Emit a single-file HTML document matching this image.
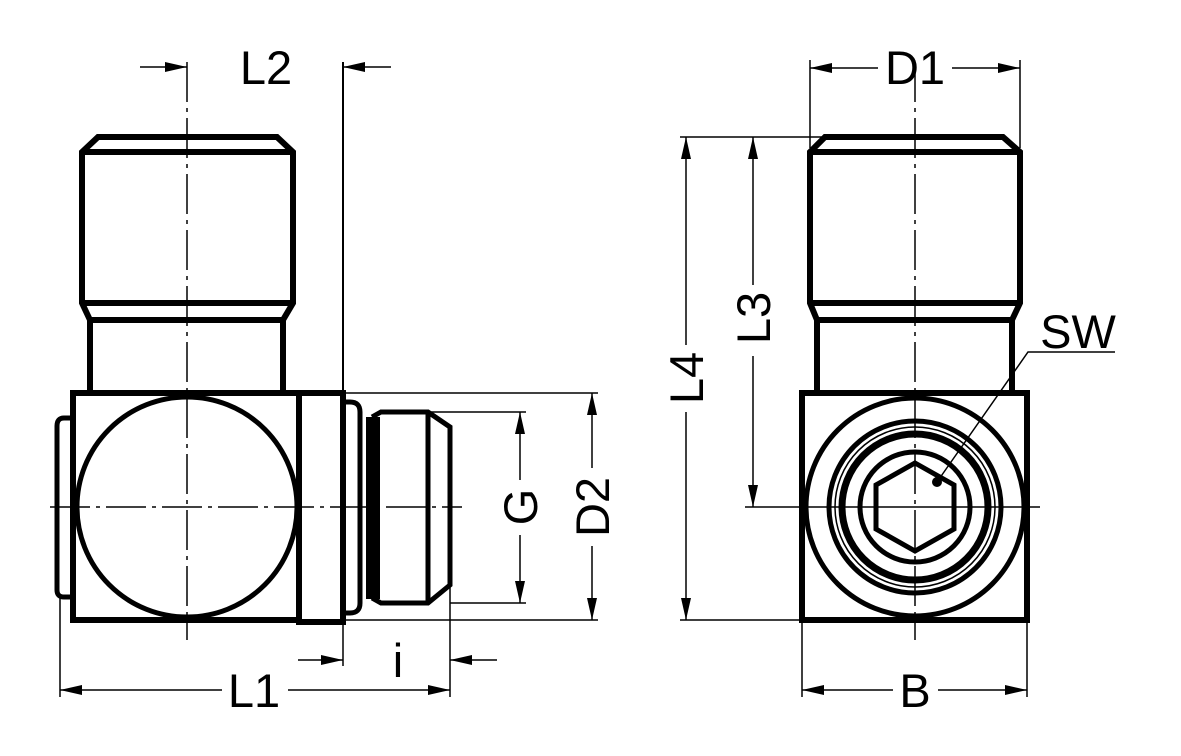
<!DOCTYPE html>
<html><head><meta charset="utf-8"><style>
html,body{margin:0;padding:0;background:#fff;}
svg{display:block;}
text{font-family:"Liberation Sans",sans-serif;font-size:47px;fill:#000;}
</style></head><body>
<svg width="1181" height="756" viewBox="0 0 1181 756" xmlns="http://www.w3.org/2000/svg">
<defs>
<marker id="a" viewBox="0 0 22 10" refX="22" refY="5" markerWidth="22" markerHeight="10" markerUnits="userSpaceOnUse" orient="auto"><path d="M0,0 L22,5 L0,10 z" fill="#000"/></marker>
</defs>
<g fill="none" stroke="#000" stroke-width="6" stroke-linejoin="miter">
<!-- LEFT VIEW -->
<path d="M90,393 V320 L82,303 V152 L98,137 H277 L293,152 V303 L283,320 V393"/>
<line x1="82" y1="152" x2="293" y2="152"/>
<line x1="82" y1="303" x2="293" y2="303"/>
<line x1="90" y1="320" x2="283" y2="320"/>
<rect x="73" y="393" width="226" height="227"/>
<circle cx="187" cy="507" r="110" stroke-width="5"/>
<path d="M73,418 H64 Q57,418 57,426 V590 Q57,597 64,597 H73" stroke-width="5"/>
<rect x="299" y="393" width="44" height="229"/>
<path d="M343,402 H350 Q360,402 360,412 V603 Q360,613 350,613 H343" stroke-width="5"/>
<rect x="367" y="418" width="12" height="180" fill="#000" stroke-width="2"/>
<path d="M372,417 L381,412 H428 L450,427 V585 L428,603 H381 L372,598" stroke-width="5"/>
<line x1="428" y1="412" x2="428" y2="603" stroke-width="5"/>
<!-- RIGHT VIEW -->
<path d="M817,393 V320 L810,303 V152 L825,137 H1003 L1020,152 V303 L1012,320 V393"/>
<line x1="810" y1="152" x2="1020" y2="152"/>
<line x1="810" y1="303" x2="1020" y2="303"/>
<line x1="817" y1="320" x2="1012" y2="320"/>
<rect x="802" y="393" width="225" height="227"/>
<circle cx="915" cy="507" r="109" stroke-width="5"/>
<circle cx="915" cy="507" r="86" stroke-width="5"/>
<circle cx="915" cy="507" r="80" stroke-width="1.5"/>
<circle cx="915" cy="507" r="73" stroke-width="7"/>
<circle cx="915" cy="507" r="55" stroke-width="5"/>
<polygon points="915,463 954,485 954,529 915,551 876,529 876,485" stroke-width="5"/>
</g>
<circle cx="937" cy="482" r="5" fill="#000"/>
<g stroke="#000" stroke-width="1.5" fill="none">
<!-- center lines -->
<line x1="187" y1="62" x2="187" y2="640" stroke-dasharray="40,6,4,6"/>
<line x1="50" y1="507" x2="462" y2="507" stroke-dasharray="40,6,4,6"/>
<line x1="915" y1="62" x2="915" y2="640" stroke-dasharray="40,6,4,6"/>
<line x1="745" y1="507" x2="1040" y2="507"/>
<!-- L2 -->
<line x1="343" y1="62" x2="343" y2="393" stroke-width="2"/>
<line x1="140" y1="67" x2="187" y2="67" marker-end="url(#a)"/>
<line x1="391" y1="67" x2="343" y2="67" marker-end="url(#a)"/>
<!-- D1 -->
<line x1="810" y1="60" x2="810" y2="148"/>
<line x1="1020" y1="60" x2="1020" y2="148"/>
<line x1="878" y1="68" x2="810" y2="68" marker-end="url(#a)"/>
<line x1="952" y1="68" x2="1020" y2="68" marker-end="url(#a)"/>
<!-- L4 / L3 -->
<line x1="680" y1="137" x2="825" y2="137"/>
<line x1="680" y1="620" x2="802" y2="620"/>
<line x1="686" y1="345" x2="686" y2="137" marker-end="url(#a)"/>
<line x1="686" y1="412" x2="686" y2="620" marker-end="url(#a)"/>
<line x1="753" y1="285" x2="753" y2="137" marker-end="url(#a)"/>
<line x1="753" y1="356" x2="753" y2="507" marker-end="url(#a)"/>
<!-- SW leader -->
<polyline points="937,482 1028,352 1115,352"/>
<!-- G / D2 -->
<line x1="343" y1="393" x2="598" y2="393"/>
<line x1="343" y1="620" x2="598" y2="620"/>
<line x1="430" y1="412" x2="526" y2="412"/>
<line x1="450" y1="603" x2="526" y2="603"/>
<line x1="520" y1="480" x2="520" y2="412" marker-end="url(#a)"/>
<line x1="520" y1="535" x2="520" y2="603" marker-end="url(#a)"/>
<line x1="592" y1="468" x2="592" y2="393" marker-end="url(#a)"/>
<line x1="592" y1="546" x2="592" y2="620" marker-end="url(#a)"/>
<!-- i / L1 -->
<line x1="60" y1="597" x2="60" y2="697"/>
<line x1="450" y1="585" x2="450" y2="697"/>
<line x1="343" y1="620" x2="343" y2="666"/>
<line x1="298" y1="660" x2="343" y2="660" marker-end="url(#a)"/>
<line x1="497" y1="660" x2="450" y2="660" marker-end="url(#a)"/>
<line x1="222" y1="690" x2="60" y2="690" marker-end="url(#a)"/>
<line x1="288" y1="690" x2="450" y2="690" marker-end="url(#a)"/>
<!-- B -->
<line x1="802" y1="620" x2="802" y2="697"/>
<line x1="1027" y1="620" x2="1027" y2="697"/>
<line x1="893" y1="690" x2="802" y2="690" marker-end="url(#a)"/>
<line x1="938" y1="690" x2="1027" y2="690" marker-end="url(#a)"/>
</g>
<text x="266" y="84" text-anchor="middle">L2</text>
<text x="915" y="84" text-anchor="middle">D1</text>
<text x="1078" y="348" text-anchor="middle">SW</text>
<text x="254" y="707" text-anchor="middle">L1</text>
<text x="398" y="677" text-anchor="middle">i</text>
<text x="915" y="707" text-anchor="middle">B</text>
<text transform="translate(703,378) rotate(-90)" text-anchor="middle">L4</text>
<text transform="translate(770,318) rotate(-90)" text-anchor="middle">L3</text>
<text transform="translate(537,507) rotate(-90)" text-anchor="middle">G</text>
<text transform="translate(609,507) rotate(-90)" text-anchor="middle">D2</text>
</svg>
</body></html>
